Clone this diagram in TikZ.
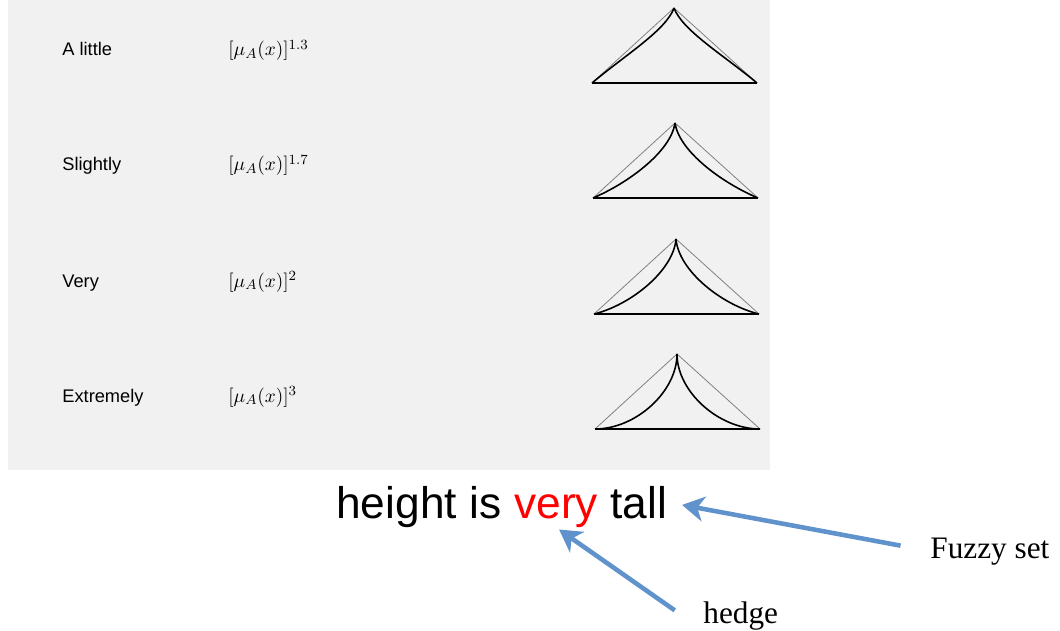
\documentclass[tikz,border=0pt]{standalone}
\usepackage{fontspec}
\setmainfont{Liberation Serif}
\newfontfamily\arialfont{Liberation Sans}
\usetikzlibrary{arrows.meta,positioning}
\definecolor{scanbg}{RGB}{241,241,241}
\definecolor{hedgeblue}{RGB}{96,146,204}
\definecolor{veryred}{RGB}{255,0,0}

\begin{document}
\begin{tikzpicture}[
    x=0.02cm, y=-0.02cm,
    hedgename/.style={font=\arialfont\fontsize{10.4}{12}\selectfont, anchor=base west, inner sep=0pt},
    formula/.style={font=\fontsize{11}{13}\selectfont, anchor=base west, inner sep=0pt},
    straight/.style={gray, line width=0.45pt},
    curve/.style={black, line width=0.9pt},
    sentence/.style={font=\arialfont\fontsize{25.2}{30}\selectfont, anchor=base west, inner sep=0pt},
    note/.style={font=\fontsize{17.8}{21}\selectfont, anchor=base west, inner sep=0pt},
    ptr/.style={-{Stealth[length=0.44cm, width=0.5cm, inset=0.13cm]}, hedgeblue, line width=2.6pt},
]
\useasboundingbox (0,0) rectangle (1060,631);
\fill[scanbg] (8,0) rectangle (770,470);

% hedges, powers and their membership curves
\foreach \lab/\pw/\yy/\ca/\cb/\cc/\cd [count=\i] in {
    A little/1.3/56/0.4/0.37/0.9/0.7,
    Slightly/1.7/171/0.43/0.2/0.95/0.62,
    Very/2/287/0.45/0.12/0.97/0.58,
    Extremely/3/402/0.5/0/1/0.5}{
  \node[hedgename] (lab\i) at (62,\yy) {\lab};
  \node[formula] (pow\i) at (228,\yy) {$[\mu_A(x)]^{\pw}$};
  \pgfmathsetmacro\ay{\yy-48}
  \pgfmathsetmacro\by{\yy+27}
  \pgfmathsetmacro\lx{591+\i}
  \pgfmathsetmacro\ax{673+\i}
  \pgfmathsetmacro\rx{756+\i}
  \pgfmathsetmacro\hh{\by-\ay}
  \draw[straight] (\lx,\by) -- (\ax,\ay) -- (\rx,\by);
  \draw[curve] (\lx,\by) -- (\rx,\by);
  \draw[curve] (\lx,\by) .. controls ({\lx+\ca*(\ax-\lx)},{\by-\cb*\hh}) and ({\lx+\cc*(\ax-\lx)},{\by-\cd*\hh}) .. (\ax,\ay);
  \draw[curve] (\rx,\by) .. controls ({\rx-\ca*(\rx-\ax)},{\by-\cb*\hh}) and ({\rx-\cc*(\rx-\ax)},{\by-\cd*\hh}) .. (\ax,\ay);
}

% the sentence
\node[sentence] (hgt) at (336,518) {height is};
\node[sentence, text=veryred] (very) at (514,518) {very};
\node[sentence] (tall) at (610,518) {tall};

\node[note] (fuzzy) at (930,558) {Fuzzy set};
\node[note] (hedge) at (703,623) {hedge};

\draw[ptr, shorten <=0.6cm, shorten >=0.3cm] (fuzzy.west) -- (tall.east);
\draw[ptr, shorten <=0.69cm, shorten >=0.07cm] (hedge.south west) -- (very.south);
\end{tikzpicture}
\end{document}
